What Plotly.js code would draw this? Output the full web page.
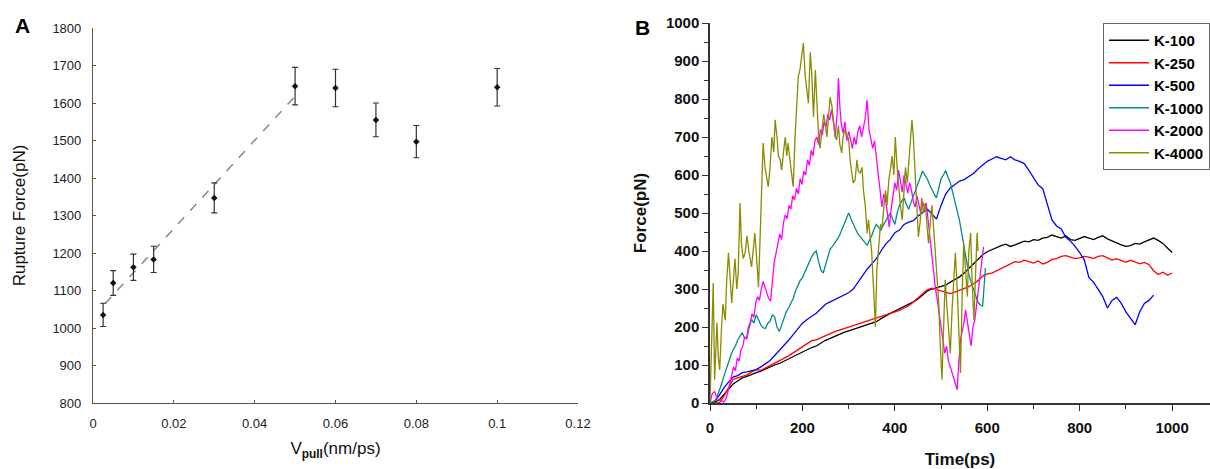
<!DOCTYPE html>
<html>
<head>
<meta charset="utf-8">
<script src="https://cdn.plot.ly/plotly-3.0.1.min.js"></script>
<style>
  html, body { margin: 0; padding: 0; background: #fff; overflow: hidden; }
  #chart { width: 1210px; height: 469px; }
</style>
</head>
<body>
<div id="chart"></div>
<script>
// ---------- Panel A data ----------
const vpull = [0.0025, 0.005, 0.01, 0.015, 0.03, 0.05, 0.06, 0.07, 0.08, 0.1];
const ruptureForce = [1035, 1120, 1162, 1183, 1347, 1645, 1640, 1555, 1497, 1642];
const ruptureErr = [31, 33, 35, 35, 40, 50, 50, 45, 43, 50];
const fitX = [0.003, 0.05];
const fitY = [1065, 1618];

// ---------- Panel B data ----------
const time10 = [0,10,20,30,40,50,60,70,80,90,100,110,120,130,140,150,160,170,180,190,200,210,220,230,240,250,260,270,280,290,300,310,320,330,340,350,360,370,380,390,400,410,420,430,440,450,460,470,480,490,500,510,520,530,540,550,560,570,580,590,600,610,620,630,640,650,660,670,680,690,700,710,720,730,740,750,760,770,780,790,800,810,820,830,840,850,860,870,880,890,900,910,920,930,940,950,960,970,980,990,1000];

const forceK100 = [0,2,8,22,38,50,58,66,70,76,
  80,84,90,95,100,104,110,118,122,128,
  134,140,146,150,158,165,170,176,182,186,
  190,194,198,204,206,210,214,222,230,236,
  242,248,252,258,266,274,284,294,300,304,
  306,310,318,324,332,342,354,366,378,390,
  398,404,410,414,418,412,416,422,426,424,
  430,428,434,436,442,438,434,440,430,428,
  432,438,434,430,436,440,432,426,420,416,
  412,414,420,418,424,430,434,428,420,408,
  396];

const forceK250 = [0,0,0,18,42,62,66,70,74,82,
  88,86,92,98,104,110,116,124,132,140,
  150,158,164,166,172,178,184,188,192,196,
  198,202,206,210,214,218,222,226,232,236,
  240,244,250,256,266,276,288,298,302,298,
  294,290,288,292,296,300,306,314,322,334,
  340,342,348,356,360,366,372,370,376,372,
  368,374,366,370,378,380,386,388,384,380,
  382,386,384,380,386,388,382,376,380,374,
  370,376,372,366,370,364,348,338,344,336,
  342];

const timeK500 = [0,10,20,30,40,50,60,70,80,90,100,110,120,130,140,150,160,170,180,190,200,210,220,230,240,250,260,270,280,290,300,310,320,330,340,350,360,370,380,390,400,410,420,430,440,450,460,470,480,490,500,510,520,530,540,550,560,570,580,590,600,610,620,630,640,650,660,670,680,690,700,710,720,730,740,750,760,770,780,790,800,810,820,830,840,850,860,870,880,890,900,910,920,930,940,950,960];
const forceK500 = [0,5,20,40,55,68,72,80,82,86,
  88,95,104,112,125,138,150,165,180,195,
  210,220,228,236,248,260,266,272,276,284,
  290,300,318,335,352,366,380,400,418,430,
  448,455,470,476,480,492,502,510,498,484,
  520,550,566,574,584,588,596,604,616,626,
  636,642,648,644,640,648,640,636,630,612,
  592,574,564,526,482,466,458,436,426,412,
  396,376,330,318,298,280,250,270,278,262,
  240,222,206,240,262,270,284];

// [time (ps), force (pN)] readings
const pointsK1000 = [[0,0],[5,2],[10,5],[15,15],[20,30],[25,50],[30,70],[35,90],[40,110],[45,125],[50,140],[55,150],[60,166],[65,175],[70,185],[75,170],[80,172],[85,200],[90,220],[95,210],[100,232],[105,220],[110,205],[115,198],[120,196],[125,210],[130,215],[135,232],[140,226],[145,200],[150,188],[155,205],[160,222],[165,240],[170,250],[175,262],[180,275],[185,295],[190,310],[195,322],[200,330],[205,345],[210,360],[215,372],[220,385],[225,395],[230,400],[235,372],[240,350],[245,342],[250,365],[255,385],[260,405],[265,412],[270,420],[275,430],[280,440],[285,455],[290,470],[295,490],[300,500],[305,485],[310,470],[315,455],[320,445],[325,438],[330,430],[335,422],[340,415],[345,428],[350,440],[355,458],[360,470],[365,462],[370,455],[375,468],[380,480],[385,492],[390,500],[395,485],[400,470],[405,500],[410,520],[415,532],[420,540],[425,522],[430,510],[435,528],[440,545],[445,562],[450,580],[455,598],[460,610],[465,600],[470,590],[475,575],[480,560],[485,550],[490,540],[495,568],[500,590],[505,600],[510,612],[515,595],[520,580],[525,555],[530,530],[535,505],[540,480],[545,445],[550,410],[555,375],[560,340],[565,318],[570,300],[575,282],[580,265],[585,258],[590,255],[596,355]];

const pointsK2000 = [[0,0],[5,25],[10,30],[15,12],[20,8],[25,5],[30,3],[34,10],[38,25],[43,52],[47,70],[51,95],[55,85],[59,118],[63,110],[67,140],[71,150],[75,175],[79,168],[83,200],[87,211],[91,235],[95,225],[99,265],[103,280],[107,270],[111,300],[115,320],[119,305],[123,290],[127,275],[131,268],[135,330],[139,370],[143,395],[147,425],[151,445],[155,430],[159,475],[163,495],[167,485],[171,520],[175,510],[179,545],[183,535],[187,565],[191,550],[195,590],[199,575],[203,610],[207,600],[211,640],[215,625],[219,665],[223,650],[227,690],[231,700],[235,680],[239,720],[243,705],[247,740],[251,725],[255,760],[259,745],[263,772],[267,740],[271,700],[275,760],[278,855],[281,780],[284,735],[288,710],[292,740],[296,690],[300,715],[304,695],[308,670],[312,700],[316,680],[320,715],[324,730],[328,700],[332,725],[336,750],[340,797],[344,720],[348,695],[352,670],[356,690],[360,640],[364,610],[368,560],[372,516],[376,550],[380,534],[384,490],[388,463],[392,510],[396,540],[400,580],[404,560],[408,613],[412,585],[416,555],[420,600],[424,570],[428,552],[432,580],[436,560],[440,530],[444,516],[448,545],[452,520],[456,500],[460,530],[464,515],[468,526],[472,480],[476,440],[480,395],[484,350],[488,300],[492,270],[496,236],[500,200],[504,175],[508,131],[512,150],[516,110],[520,95],[524,79],[528,60],[532,45],[535,35],[538,100],[542,166],[546,190],[550,215],[553,245],[557,210],[561,180],[565,150],[569,200],[573,218],[577,260],[581,300],[585,350],[589,380],[592,411]];

const timeK4000 = [0,4,7,10,13,15,18,21,25,28,33,36,40,44,47,51,54,58,61,65,68,72,76,80,84,90,94,97,101,105,108,112,115,119,122,126,130,134,138,141,145,148,152,155,159,163,166,169,173,177,180,184,188,191,195,198,202,206,210,213,217,220,224,228,231,235,238,242,246,250,253,257,260,264,267,271,274,278,281,285,288,292,296,300,303,307,310,314,318,321,325,329,332,336,340,343,347,350,354,358,361,365,369,372,376,380,383,387,391,394,398,401,405,409,412,416,420,423,427,431,434,437,440,444,447,451,455,458,462,466,470,473,477,480,484,488,491,495,498,502,505,509,513,516,520,524,527,531,535,538,542,546,549,553,557,560,564,567,571,575,578,580];
const forceK4000 = [0,150,316,61,180,211,120,87,200,260,
  218,320,395,300,263,330,380,300,342,526,
  420,380,395,440,400,358,400,447,380,305,
  420,560,684,620,600,569,620,700,660,745,
  700,650,640,613,660,700,650,684,640,600,
  569,700,800,858,880,910,947,860,820,789,
  923,870,753,876,800,700,670,720,760,730,
  700,760,805,780,740,700,692,730,680,658,
  700,720,702,697,640,610,579,587,640,610,
  605,620,560,520,447,482,430,395,300,200,
  350,420,470,462,520,560,520,587,620,650,
  600,700,620,560,520,482,560,620,580,640,
  680,745,700,600,500,437,480,540,500,526,
  460,420,480,520,460,395,330,263,160,61,
  180,324,250,200,131,250,330,395,300,180,
  79,300,420,350,280,400,447,330,218,350,
  447,400];

const seriesNames = ['K-100', 'K-250', 'K-500', 'K-1000', 'K-2000', 'K-4000'];
const seriesColors = ['#000000', '#ff0000', '#0000ff', '#008b8b', '#ff00ff', '#8b8b00'];
const seriesTimes = [time10, time10, timeK500, pointsK1000.map(p => p[0]), pointsK2000.map(p => p[0]), timeK4000];
const seriesForces = [forceK100, forceK250, forceK500, pointsK1000.map(p => p[1]), pointsK2000.map(p => p[1]), forceK4000];

// ---------- traces ----------
const traces = [];
traces.push({
  x: fitX, y: fitY, xaxis: 'x', yaxis: 'y', mode: 'lines',
  line: {color: '#888888', width: 1.5, dash: 'dash'},
  showlegend: false, hoverinfo: 'skip'
});
traces.push({
  x: vpull, y: ruptureForce, xaxis: 'x', yaxis: 'y', mode: 'markers',
  marker: {color: '#111111', size: 5, symbol: 'diamond'},
  error_y: {type: 'data', array: ruptureErr, visible: true, color: '#333333', thickness: 1.2, width: 3},
  showlegend: false
});
for (let i = 0; i < seriesNames.length; i++) {
  traces.push({
    x: seriesTimes[i], y: seriesForces[i], xaxis: 'x2', yaxis: 'y2',
    mode: 'lines', name: seriesNames[i],
    line: {color: seriesColors[i], width: 1.3}
  });
}

const W = 1210, H = 469;
const font = 'Arial, "Liberation Sans", Helvetica, sans-serif';

const layout = {
  width: W, height: H,
  margin: {l: 0, r: 0, t: 0, b: 0, autoexpand: false},
  paper_bgcolor: '#ffffff', plot_bgcolor: 'rgba(0,0,0,0)',
  font: {family: font, color: '#111111'},
  showlegend: true,
  legend: {
    x: 1103 / W, y: 1 - 23 / H, xanchor: 'left', yanchor: 'top',
    bordercolor: '#666666', borderwidth: 1, bgcolor: '#ffffff',
    font: {family: font, size: 15, color: '#000000', weight: 'bold'},
    itemwidth: 40,
    tracegroupgap: 0
  },
  xaxis: {
    domain: [93 / W, 578 / W], anchor: 'y',
    range: [0, 0.12], dtick: 0.02, tick0: 0,
    showline: true, linecolor: '#555555', linewidth: 1.2,
    ticks: 'inside', ticklen: 3, tickcolor: '#555555',
    showgrid: false, zeroline: false,
    tickfont: {family: font, size: 13, color: '#222222'},
    ticklabelstandoff: 8,
    title: {text: 'V<sub><b>pull</b></sub>(nm/ps)', font: {family: font, size: 17, color: '#111111'}, standoff: 12}
  },
  yaxis: {
    domain: [1 - 403 / H, 1 - 28 / H], anchor: 'x',
    range: [800, 1800], dtick: 100,
    showline: true, linecolor: '#555555', linewidth: 1.2,
    ticks: 'inside', ticklen: 3, tickcolor: '#555555',
    showgrid: false, zeroline: false,
    tickfont: {family: font, size: 13, color: '#222222'},
    ticklabelstandoff: 8,
    title: {text: 'Rupture Force(pN)', font: {family: font, size: 17, color: '#111111'}, standoff: 22}
  },
  xaxis2: {
    domain: [710 / W, 1], anchor: 'y2',
    range: [0, 1082], dtick: 200, tick0: 0,
    showline: true, linecolor: '#333333', linewidth: 1.5,
    ticks: 'outside', ticklen: 6, tickcolor: '#333333',
    minor: {dtick: 100, ticks: 'outside', ticklen: 4, tickcolor: '#333333'},
    showgrid: false, zeroline: false,
    tickfont: {family: font, size: 15, color: '#111111', weight: 'bold'},
    ticklabelstandoff: 4,
    title: {text: 'Time(ps)', font: {family: font, size: 17, color: '#111111', weight: 'bold'}, standoff: 18}
  },
  yaxis2: {
    domain: [1 - 403 / H, 1 - 23 / H], anchor: 'x2',
    range: [0, 1000], dtick: 100,
    showline: true, linecolor: '#333333', linewidth: 1.5,
    ticks: 'outside', ticklen: 6, tickcolor: '#333333',
    minor: {dtick: 50, ticks: 'outside', ticklen: 4, tickcolor: '#333333'},
    showgrid: false, zeroline: false,
    tickfont: {family: font, size: 15, color: '#111111', weight: 'bold'},
    title: {text: 'Force(pN)', font: {family: font, size: 17, color: '#111111', weight: 'bold'}, standoff: 15}
  },
  annotations: [
    {text: '<b>A</b>', xref: 'paper', yref: 'paper', x: 22 / W, y: 1 - 26 / H,
     xanchor: 'center', yanchor: 'middle', showarrow: false,
     font: {family: font, size: 21, color: '#000000'}},
    {text: '<b>B</b>', xref: 'paper', yref: 'paper', x: 642 / W, y: 1 - 27 / H,
     xanchor: 'center', yanchor: 'middle', showarrow: false,
     font: {family: font, size: 21, color: '#000000'}}
  ]
};

Plotly.newPlot('chart', traces, layout, {displayModeBar: false, responsive: false});
</script>
</body>
</html>
